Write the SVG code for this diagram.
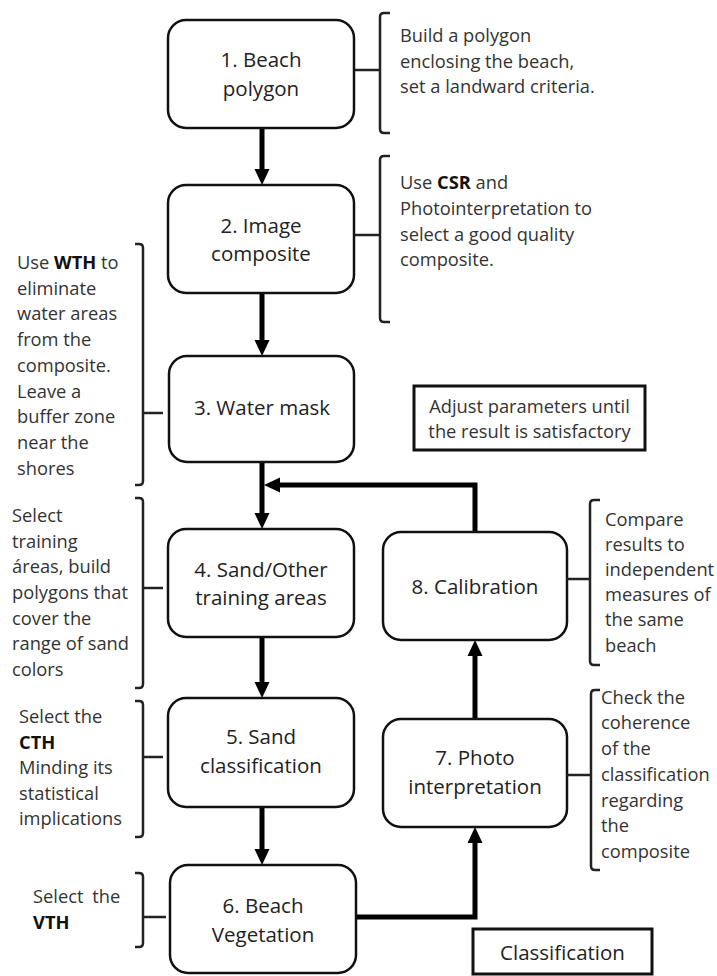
<svg xmlns="http://www.w3.org/2000/svg" width="717" height="976" viewBox="0 0 717 976">
<defs>
<style>
.box{fill:#fff;stroke:#111;stroke-width:2.5}
.lbl{font-family:"Open Sans","Liberation Sans",sans-serif;font-size:20.5px;fill:#222;text-anchor:middle}
.ann{font-family:"Open Sans","Liberation Sans",sans-serif;font-size:18.3px;fill:#333}
.b{font-weight:bold;fill:#111}
.brace{fill:none;stroke:#222;stroke-width:2.5}
.conn{fill:none;stroke:#000;stroke-width:5}
.note{fill:#fff;stroke:#111;stroke-width:3}
</style>
<marker id="ah" markerUnits="userSpaceOnUse" markerWidth="16" markerHeight="16" viewBox="0 0 16 16" refX="8" refY="8" orient="auto">
<path d="M0,0.5 L16,8 L0,15.5 z" fill="#000"/>
</marker>
</defs>
<rect width="717" height="976" fill="#fff"/>

<g id="connectors">
<path class="conn" d="M262,128 V177" marker-end="url(#ah)"/>
<path class="conn" d="M262,293 V348" marker-end="url(#ah)"/>
<path class="conn" d="M262,462 V521" marker-end="url(#ah)"/>
<path class="conn" d="M475,532 V485 H272" marker-end="url(#ah)"/>
<path class="conn" d="M262,637 V690" marker-end="url(#ah)"/>
<path class="conn" d="M262,807 V857" marker-end="url(#ah)"/>
<path class="conn" d="M356,917 H475 V835" marker-end="url(#ah)"/>
<path class="conn" d="M475,719 V648" marker-end="url(#ah)"/>
</g>

<g id="n1">
<rect class="box" x="168" y="20" width="186" height="108" rx="18"/>
<text class="lbl" x="261" y="67">1. Beach</text>
<text class="lbl" x="261" y="96">polygon</text>
</g>
<g id="n2">
<rect class="box" x="168" y="185" width="186" height="108" rx="18"/>
<text class="lbl" x="261" y="233">2. Image</text>
<text class="lbl" x="261" y="261">composite</text>
</g>
<g id="n3">
<rect class="box" x="169" y="356" width="185" height="106" rx="18"/>
<text class="lbl" x="262" y="415">3. Water mask</text>
</g>
<g id="n4">
<rect class="box" x="168" y="529" width="186" height="108" rx="18"/>
<text class="lbl" x="261" y="577">4. Sand/Other</text>
<text class="lbl" x="261" y="605">training areas</text>
</g>
<g id="n5">
<rect class="box" x="168" y="698" width="186" height="109" rx="18"/>
<text class="lbl" x="261" y="744">5. Sand</text>
<text class="lbl" x="261" y="773">classification</text>
</g>
<g id="n6">
<rect class="box" x="170" y="865" width="186" height="108" rx="18"/>
<text class="lbl" x="263" y="913">6. Beach</text>
<text class="lbl" x="263" y="942">Vegetation</text>
</g>
<g id="n7">
<rect class="box" x="383" y="719" width="184" height="108" rx="18"/>
<text class="lbl" x="475" y="765">7. Photo</text>
<text class="lbl" x="475" y="794">interpretation</text>
</g>
<g id="n8">
<rect class="box" x="383" y="532" width="184" height="108" rx="18"/>
<text class="lbl" x="475" y="594">8. Calibration</text>
</g>

<g id="note-adjust">
<rect class="note" x="414" y="386" width="231" height="64"/>
<text class="ann" x="529.5" y="413" text-anchor="middle">Adjust parameters until</text>
<text class="ann" x="529.5" y="438" text-anchor="middle">the result is satisfactory</text>
</g>
<g id="note-classification">
<rect class="note" x="473" y="929" width="179" height="45"/>
<text class="lbl" x="562.5" y="960">Classification</text>
</g>

<g id="annot1">
<path class="brace" d="M390,13 H384 Q380,13 380,17 V129 Q380,133 384,133 H390 M355,70 H380"/>
<text class="ann" x="400" y="42">Build a polygon</text>
<text class="ann" x="400" y="67.7">enclosing the beach,</text>
<text class="ann" x="400" y="93.4">set a landward criteria.</text>
</g>
<g id="annot2">
<path class="brace" d="M390,156 H384 Q380,156 380,160 V318 Q380,322 384,322 H390 M355,235 H380"/>
<text class="ann" x="400" y="189">Use <tspan class="b">CSR</tspan> and</text>
<text class="ann" x="400" y="215">Photointerpretation to</text>
<text class="ann" x="400" y="241">select a good quality</text>
<text class="ann" x="400" y="266">composite.</text>
</g>
<g id="annot3">
<path class="brace" d="M135,244 H139 Q143,244 143,248 V481 Q143,485 139,485 H135 M143,413 H163"/>
<text class="ann" x="17" y="269">Use <tspan class="b">WTH</tspan> to</text>
<text class="ann" x="17" y="294.7">eliminate</text>
<text class="ann" x="17" y="320.4">water areas</text>
<text class="ann" x="17" y="346.1">from the</text>
<text class="ann" x="17" y="371.8">composite.</text>
<text class="ann" x="17" y="397.5">Leave a</text>
<text class="ann" x="17" y="423.2">buffer zone</text>
<text class="ann" x="17" y="448.9">near the</text>
<text class="ann" x="17" y="474.6">shores</text>
</g>
<g id="annot4">
<path class="brace" d="M135,498 H139 Q143,498 143,502 V684 Q143,688 139,688 H135 M143,588 H163"/>
<text class="ann" x="12" y="522">Select</text>
<text class="ann" x="12" y="548">training</text>
<text class="ann" x="12" y="573">áreas, build</text>
<text class="ann" x="12" y="599">polygons that</text>
<text class="ann" x="12" y="625">cover the</text>
<text class="ann" x="12" y="650">range of sand</text>
<text class="ann" x="12" y="676">colors</text>
</g>
<g id="annot5">
<path class="brace" d="M135,701 H139 Q143,701 143,705 V833 Q143,837 139,837 H135 M143,757 H163"/>
<text class="ann" x="19" y="723">Select the</text>
<text class="ann b" x="19" y="749">CTH</text>
<text class="ann" x="19" y="774">Minding its</text>
<text class="ann" x="19" y="800">statistical</text>
<text class="ann" x="19" y="825">implications</text>
</g>
<g id="annot6">
<path class="brace" d="M135,873 H139 Q143,873 143,877 V943 Q143,947 139,947 H135 M143,917 H166"/>
<text class="ann" x="33" y="903" word-spacing="4">Select the</text>
<text class="ann b" x="33" y="929">VTH</text>
</g>
<g id="annot7">
<path class="brace" d="M600,690 H595 Q591,690 591,694 V866 Q591,870 595,870 H600 M567,775 H591"/>
<text class="ann" x="601" y="704">Check the</text>
<text class="ann" x="601" y="729">coherence</text>
<text class="ann" x="601" y="755">of the</text>
<text class="ann" x="601" y="781">classification</text>
<text class="ann" x="601" y="807">regarding</text>
<text class="ann" x="601" y="832">the</text>
<text class="ann" x="601" y="858">composite</text>
</g>
<g id="annot8">
<path class="brace" d="M600,500 H594 Q590,500 590,504 V661 Q590,665 594,665 H600 M567,579 H590"/>
<text class="ann" x="605" y="526">Compare</text>
<text class="ann" x="605" y="551">results to</text>
<text class="ann" x="605" y="576">independent</text>
<text class="ann" x="605" y="601">measures of</text>
<text class="ann" x="605" y="626">the same</text>
<text class="ann" x="605" y="652">beach</text>
</g>
</svg>
